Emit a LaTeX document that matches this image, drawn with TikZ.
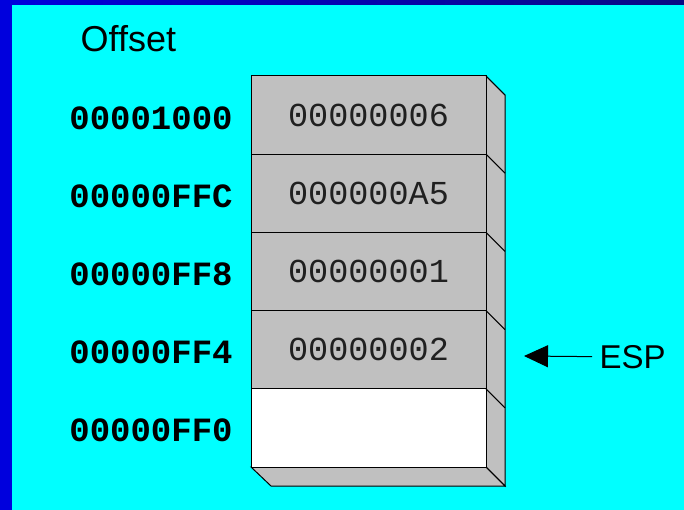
\documentclass[tikz,border=0pt]{standalone}
\usepackage{fontspec}
\setmainfont{Liberation Sans}
\newfontfamily\monofont{Liberation Mono}
\usetikzlibrary{arrows.meta}
\definecolor{bgcyan}{HTML}{00FFFF}
\definecolor{barblue}{HTML}{0000DD}
\definecolor{bardark}{HTML}{0A0A82}
\definecolor{cellgray}{HTML}{C0C0C0}
\definecolor{valtext}{HTML}{202020}
\tikzset{
  cell/.style={draw=black, line width=1pt, fill=cellgray, minimum width=235pt, minimum height=78.2pt, inner sep=0pt, outer sep=0pt,
    font=\monofont\fontsize{33.5}{40}\selectfont, text=valtext},
  emptycell/.style={cell, fill=white},
  addr/.style={font=\monofont\bfseries\fontsize{34}{40}\selectfont, inner sep=0pt},
  sidefill/.style={draw=black, line width=1pt, fill=cellgray, line join=miter},
  plain/.style={font=\fontsize{33}{38}\selectfont, inner sep=0pt}
}
\begin{document}
\begin{tikzpicture}[x=1pt,y=-1pt]
\useasboundingbox (0,0) rectangle (684,510);
\fill[bgcyan] (0,0) rectangle (684,510);
\shade[left color=barblue, right color=bardark] (0,0) rectangle (684,5);
\fill[barblue] (0,0) rectangle (12,510);

% side and bottom faces
\path[sidefill] (486,76) -- (505,95) -- (505,486) -- (486,467) -- cycle;
\path[sidefill] (251,467) -- (271,486) -- (505,486) -- (486,467) -- cycle;

% cells
\node[cell] (c1) at (368.5,115.1) {00000006};
\node[cell] (c2) at (368.5,193.3) {000000A5};
\node[cell] (c3) at (368.5,271.5) {00000001};
\node[cell] (c4) at (368.5,349.7) {00000002};
\node[emptycell] (c5) at (368.5,427.9) {};

% side diagonals at row boundaries
\foreach \n in {c1,c2,c3,c4,c5} {
  \draw[line width=1pt] (\n.south east) -- ++(19,19);
}
\draw[line width=1pt] (c1.north east) -- ++(19,19);

% addresses
\node[addr] (a1) at (151,118) {00001000};
\node[addr] (a2) at (151,196) {00000FFC};
\node[addr] (a3) at (151,274) {00000FF8};
\node[addr] (a4) at (151,352) {00000FF4};
\node[addr] (a5) at (151,430) {00000FF0};

% titles
\node[plain, anchor=base west, font=\fontsize{36}{42}\selectfont] (off) at (80.5,52) {Offset};
\node[plain, anchor=base west] (esp) at (599.5,368) {ESP};
\coordinate (tip) at (524,356);
\draw[line width=1pt, -{Triangle[length=24pt,width=22pt]}] ([xshift=-7.5pt]esp.west) -- (tip);
\end{tikzpicture}
\end{document}
